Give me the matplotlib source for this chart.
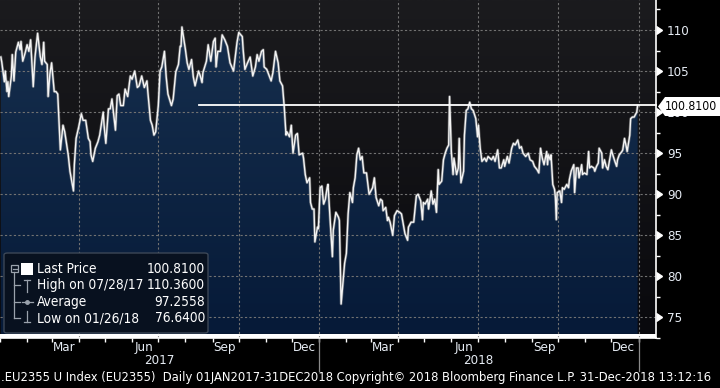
import numpy as np
import pandas as pd
import matplotlib
matplotlib.use("Agg")
import matplotlib.pyplot as plt
import matplotlib.dates as mdates
from matplotlib.colors import LinearSegmentedColormap
from matplotlib.patches import Polygon, Rectangle, FancyBboxPatch
from matplotlib.transforms import blended_transform_factory

plt.rcParams['font.family'] = ['DejaVu Sans']
plt.rcParams['font.stretch'] = 'condensed'

# days since 01 Jan 2017 and index level
day_offsets = [
    1, 2, 5, 6, 8, 9, 10, 13, 14, 16, 18, 21, 23, 24, 26, 29, 31, 33, 35, 38,
    40, 43, 46, 48, 50, 51, 54, 55, 57, 59, 62, 64, 66, 69, 72, 74, 78, 80, 84, 85,
    87, 90, 93, 95, 98, 101, 103, 104, 106, 109, 112, 114, 118, 119, 121, 124, 126, 128, 132, 134,
    136, 138, 141, 143, 146, 149, 151, 154, 157, 159, 162, 165, 168, 169, 172, 174, 176, 178, 181, 183,
    185, 188, 190, 192, 196, 198, 201, 204, 206, 207, 208, 212, 214, 216, 219, 221, 223, 227, 229, 231,
    232, 236, 238, 241, 244, 246, 247, 249, 252, 254, 257, 260, 263, 267, 269, 271, 273, 277, 278, 280,
    283, 286, 289, 292, 294, 296, 299, 301, 302, 305, 310, 312, 315, 318, 320, 323, 325, 327, 328, 331,
    333, 335, 338, 340, 342, 346, 347, 349, 351, 354, 355, 357, 359, 360, 363, 364, 366, 368, 370, 372,
    374, 375, 378, 380, 381, 384, 387, 388, 390, 394, 396, 398, 400, 403, 404, 406, 408, 410, 412, 414,
    416, 419, 421, 422, 426, 428, 430, 433, 435, 437, 438, 441, 443, 444, 446, 449, 451, 454, 457, 459,
    461, 463, 466, 467, 470, 473, 476, 478, 481, 483, 484, 486, 489, 490, 493, 495, 497, 499, 501, 502,
    505, 507, 509, 511, 513, 514, 516, 518, 519, 522, 524, 525, 527, 530, 531, 533, 535, 537, 539, 541,
    544, 546, 547, 549, 551, 554, 556, 558, 562, 564, 566, 569, 571, 573, 576, 577, 580, 582, 585, 587,
    589, 592, 594, 596, 598, 601, 604, 606, 609, 611, 614, 616, 618, 620, 622, 625, 626, 627, 629, 630,
    632, 634, 635, 636, 637, 640, 642, 643, 645, 648, 650, 651, 653, 656, 657, 659, 661, 662, 665, 666,
    668, 671, 673, 674, 676, 679, 680, 682, 684, 685, 688, 689, 691, 693, 695, 697, 699, 700, 703, 705,
    706, 708, 711, 712, 714, 716, 717, 720, 721, 723, 725, 728, 729,
]
last_price = [
    106.7, 106.1, 103.7, 105.0, 102.5, 103.7, 101.9, 104.4, 107.0, 103.8, 107.3, 108.5, 107.6, 108.6, 106.2, 107.3, 108.2, 107.4, 108.8, 103.1,
    106.7, 109.6, 106.8, 105.8, 108.5, 106.2, 105.8, 101.9, 104.6, 106.0, 102.5, 102.5, 102.2, 95.4, 98.4, 97.6, 94.8, 92.8, 90.4, 93.6,
    96.8, 98.2, 99.8, 99.0, 99.0, 96.8, 96.4, 94.8, 94.0, 95.6, 96.4, 97.2, 100.0, 98.4, 96.2, 100.4, 100.4, 101.6, 97.8, 102.0,
    102.2, 100.8, 100.8, 102.8, 101.9, 104.4, 104.0, 105.0, 103.0, 103.2, 104.4, 103.0, 103.8, 102.5, 99.0, 98.4, 97.2, 97.6, 100.8, 105.0,
    105.5, 107.4, 104.3, 102.2, 100.8, 101.6, 104.9, 105.8, 108.0, 108.0, 110.36, 107.6, 106.0, 105.2, 106.4, 104.3, 103.2, 105.0, 104.4, 103.6,
    104.8, 106.2, 108.2, 106.2, 108.6, 109.0, 105.5, 107.4, 107.4, 109.4, 108.8, 108.0, 106.0, 105.0, 106.7, 108.5, 109.7, 109.2, 107.6, 105.2,
    106.0, 106.7, 104.4, 105.5, 107.0, 106.2, 107.4, 107.6, 105.5, 105.2, 103.8, 104.8, 107.4, 106.0, 103.8, 103.2, 100.6, 97.2, 97.6, 97.0,
    98.4, 95.0, 97.2, 97.4, 94.8, 95.0, 94.4, 92.4, 91.4, 92.0, 89.0, 88.2, 88.2, 84.2, 86.0, 85.8, 90.8, 91.0, 88.8, 89.4,
    90.8, 91.2, 86.0, 82.4, 85.6, 87.8, 87.2, 86.8, 76.64, 81.6, 82.8, 87.6, 90.2, 89.0, 90.8, 92.0, 94.8, 95.6, 94.2, 94.6,
    92.6, 92.6, 90.8, 90.0, 90.8, 92.0, 89.6, 88.6, 89.4, 89.2, 88.0, 88.4, 86.8, 87.2, 86.6, 85.0, 87.4, 88.0, 87.8, 87.6,
    86.4, 85.2, 84.4, 86.0, 86.6, 86.6, 89.8, 90.0, 89.2, 86.9, 89.0, 88.8, 89.4, 88.2, 90.4, 88.8, 89.4, 87.8, 93.0, 91.2,
    91.6, 94.2, 95.0, 95.6, 96.0, 101.9, 95.2, 92.4, 94.4, 92.4, 93.2, 96.8, 91.4, 92.8, 97.2, 100.2, 100.4, 101.2, 100.4, 100.2,
    99.2, 97.0, 98.4, 95.6, 94.0, 94.4, 94.0, 94.6, 94.2, 94.6, 94.0, 95.4, 93.2, 93.2, 94.2, 93.4, 94.6, 93.8, 95.6, 96.2,
    96.0, 96.6, 95.6, 95.8, 95.0, 94.6, 95.0, 94.2, 94.0, 93.4, 93.0, 92.6, 95.6, 94.4, 93.6, 95.2, 93.6, 94.8, 94.2, 94.8,
    91.2, 90.6, 89.6, 86.9, 90.2, 90.4, 89.0, 90.8, 90.6, 91.2, 90.8, 91.8, 92.8, 93.6, 90.2, 93.2, 93.2, 92.0, 93.6, 92.4,
    92.6, 92.4, 95.2, 93.2, 93.4, 93.2, 92.8, 93.4, 93.8, 95.6, 95.0, 93.2, 94.2, 93.4, 93.0, 94.2, 95.4, 95.0, 94.0, 93.4,
    94.2, 94.8, 95.2, 95.4, 96.8, 95.8, 95.2, 97.2, 99.2, 99.4, 99.4, 100.0, 100.81,
]

y_ticks = [75, 80, 85, 90, 95, 100, 105, 110]
month_names = ['Mar', 'Jun', 'Sep', 'Dec']
years = [2017, 2018]
legend_rows = ['Last Price', 'High on 07/28/17', 'Average', 'Low on 01/26/18']
legend_vals = ['100.8100', '110.3600', '97.2558', '76.6400']
footer = (".EU2355 U Index (EU2355)  Daily 01JAN2017-31DEC2018 Copyright\u00a9 2018 "
          "Bloomberg Finance L.P. 31-Dec-2018 13:12:16")

dates = pd.Timestamp('2017-01-01') + pd.to_timedelta(day_offsets, unit='D')
x = mdates.date2num(dates)
y = np.array(last_price)

W, H = 720, 388
fig = plt.figure(figsize=(W / 100, H / 100), dpi=100, facecolor='black')
ax = fig.add_axes([0, 50 / H, 656 / W, 338 / H])

x0 = mdates.date2num(pd.Timestamp('2017-01-01'))
x1 = mdates.date2num(pd.Timestamp('2019-01-21'))
ymin, ymax = 73.0, 113.65
ax.set_xlim(x0, x1)
ax.set_ylim(ymin, ymax)

# background gradients
bg = np.linspace(0, 1, 256).reshape(-1, 1)
bg_cmap = LinearSegmentedColormap.from_list('bg', ['#1b1b1e', '#09090d'])
ax.imshow(bg, cmap=bg_cmap, extent=[x0, x1, ymin, ymax], aspect='auto', zorder=0, origin='upper')
fill_cmap = LinearSegmentedColormap.from_list('fill', ['#17304f', '#061a38'])
fill_img = ax.imshow(bg, cmap=fill_cmap, extent=[x0, x1, ymin, ymax], aspect='auto',
                     zorder=1, origin='upper')
poly = ax.fill_between(x, y, ymin, color='none', lw=0)
fill_img.set_clip_path(poly.get_paths()[0], transform=ax.transData)

# grid
quarters = pd.date_range('2017-04-01', '2019-01-01', freq='QS')
for q in quarters:
    ax.axvline(mdates.date2num(q), color='#727272', lw=0.8, ls=(0, (2, 2)), zorder=2)
for t in y_ticks:
    ax.axhline(t, color='#727272', lw=0.8, ls=(0, (2, 2)), zorder=2)

# price line
ax.plot(x, y, color='#9a9a9a', lw=2.0, alpha=0.55, zorder=3, solid_joinstyle='round')
ax.plot(x, y, color='#f4f4f4', lw=1.0, zorder=4, solid_joinstyle='round')

# last price line
ax.plot([mdates.date2num(pd.Timestamp('2017-08-17')), x1], [y[-1], y[-1]],
        color='white', lw=1.3, zorder=5, clip_on=False)

# axes styling
for s in ['left', 'top']:
    ax.spines[s].set_visible(False)
ax.spines['right'].set_color('white')
ax.spines['bottom'].set_color('white')
ax.spines['right'].set_linewidth(1.2)
ax.spines['bottom'].set_linewidth(1.2)

ax.yaxis.tick_right()
ax.set_yticks(y_ticks)
ax.set_yticklabels([str(t) for t in y_ticks])
ax.set_yticks(np.arange(72.5, 113.6, 2.5), minor=True)
ax.tick_params(axis='y', which='major', length=0, pad=8, labelsize=9.5, labelcolor='#e6ecf4')
ax.tick_params(axis='y', which='minor', length=3, width=1, color='white', direction='out')
ax.plot([1] * len(y_ticks), y_ticks, ls='none', marker=9, ms=6, color='white',
        transform=blended_transform_factory(ax.transAxes, ax.transData), clip_on=False, zorder=6)

month_starts = mdates.date2num(pd.date_range('2017-01-01', '2019-01-01', freq='MS'))
ax.set_xticks(month_starts)
ax.set_xticklabels([])
ax.tick_params(axis='x', which='major', length=3, width=1, color='white', direction='out')
mid_months = []
mid_labels = []
for yr in years:
    for m, name in zip([3, 6, 9, 12], month_names):
        mid_months.append(mdates.date2num(pd.Timestamp(yr, m, 15)))
        mid_labels.append(name)
ax.set_xticks(mid_months, minor=True)
ax.set_xticklabels(mid_labels, minor=True)
ax.tick_params(axis='x', which='minor', length=0, pad=2, labelsize=9.5, labelcolor='#e6ecf4')

bt = blended_transform_factory(ax.transData, fig.transFigure)
for yr in years:
    ax.text(mdates.date2num(pd.Timestamp(yr, 7, 2)), 1 - 360 / H, str(yr), transform=bt,
            ha='center', va='center', color='#e6ecf4', fontsize=9.5)
    sep = mdates.date2num(pd.Timestamp(yr + 1, 1, 1))
    ax.plot([sep, sep], [1 - 339 / H, 1 - 371 / H], transform=bt, color='#8a8a8a',
            lw=0.9, clip_on=False)


def fx(px):
    return px / W


def fy(py):
    return 1 - py / H


# last price tag
tag = Polygon([(fx(658), fy(106.5)), (fx(665), fy(97)), (fx(720), fy(97)),
               (fx(720), fy(116)), (fx(665), fy(116))],
              closed=True, transform=fig.transFigure, facecolor='white', edgecolor='none', zorder=10)
fig.patches.append(tag)
fig.text(fx(665), fy(106.5), '100.8100', color='black', fontsize=8.7, ha='left', va='center', zorder=11)

# legend box
box = FancyBboxPatch((fx(4), fy(333)), fx(204), 80 / H, boxstyle='round,pad=0,rounding_size=0.005',
                     transform=fig.transFigure, facecolor='#08111f', edgecolor='#3c4756', lw=1, zorder=10)
fig.patches.append(box)
rows_y = [269, 285, 302, 318]
gc = '#9aa2ac'
lines_px = [
    [(14, 272), (14, 318)], [(14, 285), (20, 285)], [(14, 302), (20, 302)], [(14, 318), (20, 318)],
    [(27, 280), (27, 292)], [(24, 280), (30, 280)],
    [(22, 302), (33, 302)],
    [(27, 311), (27, 322)], [(24, 322), (30, 322)],
]
for seg in lines_px:
    fig.add_artist(plt.Line2D([fx(p[0]) for p in seg], [fy(p[1]) for p in seg], color=gc,
                              lw=0.9, transform=fig.transFigure, zorder=11))
fig.add_artist(plt.Line2D([fx(27)], [fy(302)], marker='o', ms=2.5, color=gc, transform=fig.transFigure, zorder=11))
fig.patches.append(Rectangle((fx(11), fy(272)), fx(7), 7 / H, transform=fig.transFigure,
                             facecolor='none', edgecolor=gc, lw=0.9, zorder=11))
fig.add_artist(plt.Line2D([fx(12.5), fx(16.5)], [fy(268.5), fy(268.5)], color=gc, lw=0.9,
                          transform=fig.transFigure, zorder=11))
fig.patches.append(Rectangle((fx(21), fy(275)), fx(12), 12 / H, transform=fig.transFigure,
                             facecolor='white', edgecolor='none', zorder=11))
for ry, label, val in zip(rows_y, legend_rows, legend_vals):
    fig.text(fx(37), fy(ry), label, color='white', fontsize=9.8, ha='left', va='center', zorder=12)
    fig.text(fx(205), fy(ry), val, color='white', fontsize=9.8, ha='right', va='center', zorder=12)

fig.text(fx(1), fy(378), footer, color='white', fontsize=9.3, ha='left', va='center')

fig.savefig('out.png', dpi=100, facecolor='black')
